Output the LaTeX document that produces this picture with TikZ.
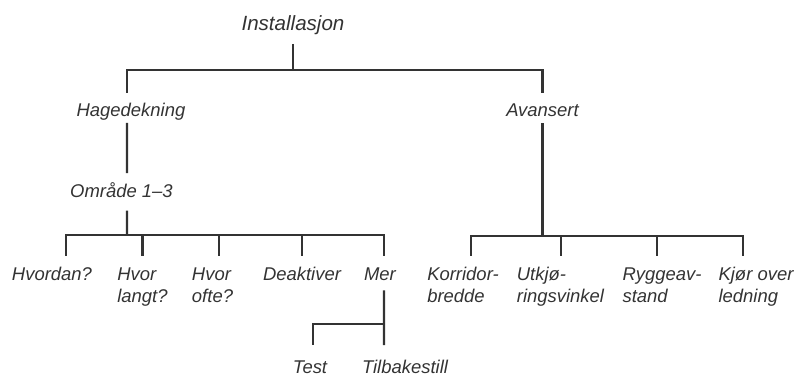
\documentclass[tikz,border=0pt]{standalone}
\usepackage{fontspec}
\setmainfont{Liberation Sans}
\usepackage{tikz}
\usetikzlibrary{positioning}
\usepackage{xcolor}
\definecolor{ink}{HTML}{333333}

\begin{document}
\begin{tikzpicture}[
  label/.style={inner sep=0pt, anchor=north, align=left, text=ink, font=\itshape\fontsize{10.5}{12.5}\selectfont},
  root/.style={label, font=\itshape\fontsize{11.7}{14}\selectfont},
  link/.style={draw=ink, line width=1.2pt}
]
  \useasboundingbox (0,0) rectangle (16.02,-7.50);

  % Title
  \node[root] (inst) at (5.86,-0.30) {Installasjon};

  % Second level
  \node[label] (hage) at (2.62,-2.06) {Hagedekning};
  \node[label] (avs) at (10.85,-2.06) {Avansert};
  \node[label] (omr) at (2.43,-3.64) {Område 1–3};

  % Left leaves
  \node[label] (hvd) at (1.04,-5.34) {Hvordan?};
  \node[label] (lang) at (2.85,-5.34) {Hvor\\langt?};
  \node[label] (ofte) at (4.25,-5.34) {Hvor\\ofte?};
  \node[label] (deak) at (6.04,-5.34) {Deaktiver};
  \node[label] (mer) at (7.60,-5.34) {Mer};
  \node[label] (test) at (6.20,-7.20) {Test};
  \node[label] (tilb) at (8.10,-7.20) {Tilbakestill};

  % Right leaves
  \node[label] (korr) at (9.26,-5.34) {Korridor-\\bredde};
  \node[label] (utk) at (11.21,-5.34) {Utkjø-\\ringsvinkel};
  \node[label] (rygg) at (13.24,-5.34) {Ryggeav-\\stand};
  \node[label] (kjor) at (15.12,-5.34) {Kjør over\\ledning};

  % Junctions
  \coordinate (j0) at (5.86,-1.40);
  \coordinate (j1) at (2.54,-4.70);
  \coordinate (j2) at (10.85,-4.72);
  \coordinate (j3) at (7.68,-6.48);

  % Top split
  \draw[link] ([yshift=-0.18cm]inst.south) -- (j0);
  \draw[link] (j0) -| ([xshift=-0.08cm,yshift=0.2cm]hage.north);
  \draw[link] (j0) -| ([yshift=0.2cm]avs.north);

  % Hagedekning branch
  \draw[link] ([xshift=-0.08cm,yshift=-0.04cm]hage.south) -- ([xshift=0.11cm,yshift=0.18cm]omr.north);
  \draw[link] ([xshift=0.11cm,yshift=-0.255cm]omr.south) -- (j1);
  \draw[link] (j1) -| ([xshift=0.28cm,yshift=0.22cm]hvd.north);
  \draw[link] (j1) -| ([yshift=0.22cm]lang.north);
  \draw[link] (j1) -| ([xshift=0.13cm,yshift=0.22cm]ofte.north);
  \draw[link] (j1) -| ([yshift=0.22cm]deak.north);
  \draw[link] (j1) -| ([xshift=0.08cm,yshift=0.22cm]mer.north);

  % Mer
  \draw[link] ([xshift=0.08cm,yshift=-0.195cm]mer.south) -- ([xshift=-0.42cm,yshift=0.30cm]tilb.north);
  \draw[link] (j3) -| ([xshift=0.06cm,yshift=0.30cm]test.north);

  % Avansert branch
  \draw[link] ([yshift=-0.135cm]avs.south) -- (j2);
  \draw[link] (j2) -| ([xshift=0.16cm,yshift=0.22cm]korr.north);
  \draw[link] (j2) -| ([xshift=0.01cm,yshift=0.22cm]utk.north);
  \draw[link] (j2) -| ([xshift=-0.10cm,yshift=0.22cm]rygg.north);
  \draw[link] (j2) -| ([xshift=-0.26cm,yshift=0.22cm]kjor.north);
\end{tikzpicture}
\end{document}
